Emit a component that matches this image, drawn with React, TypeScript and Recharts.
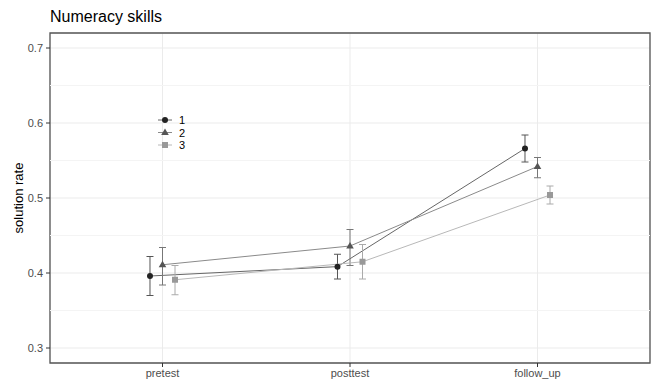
import {
  ComposedChart,
  Line,
  XAxis,
  YAxis,
  CartesianGrid,
  ErrorBar,
  ReferenceArea,
  ReferenceLine,
  Legend,
} from 'recharts'

const phases = ['pretest', 'posttest', 'follow_up']
const groups = ['1', '2', '3']

const mean1 = [0.396, 0.4085, 0.566]
const lower1 = [0.37, 0.392, 0.548]
const upper1 = [0.422, 0.425, 0.584]

const mean2 = [0.411, 0.436, 0.542]
const lower2 = [0.384, 0.41, 0.527]
const upper2 = [0.434, 0.458, 0.554]

const mean3 = [0.391, 0.415, 0.504]
const lower3 = [0.371, 0.392, 0.492]
const upper3 = [0.41, 0.438, 0.516]

const yTicks = [0.3, 0.4, 0.5, 0.6, 0.7]
const yMinor = [0.35, 0.45, 0.55, 0.65]

const DODGE = 0.0667
const FONT = '"Liberation Sans", Arial, sans-serif'

type Shape = 'circle' | 'triangle' | 'square'

interface SeriesStyle {
  name: string
  shape: Shape
  point: string
  line: string
  bar: string
}

const styles: SeriesStyle[] = [
  { name: groups[0], shape: 'circle', point: '#222222', line: '#666666', bar: '#555555' },
  { name: groups[1], shape: 'triangle', point: '#555555', line: '#8a8a8a', bar: '#777777' },
  { name: groups[2], shape: 'square', point: '#999999', line: '#b8b8b8', bar: '#aaaaaa' },
]

function buildSeries(mean: number[], lower: number[], upper: number[], gi: number) {
  return mean.map((m, i) => ({
    x: i + 1 + (gi - 1) * DODGE,
    y: m,
    err: [m - lower[i], upper[i] - m],
  }))
}

const series = [
  buildSeries(mean1, lower1, upper1, 0),
  buildSeries(mean2, lower2, upper2, 1),
  buildSeries(mean3, lower3, upper3, 2),
]

function Marker({ cx, cy, shape, color }: { cx: number; cy: number; shape: Shape; color: string }) {
  if (shape === 'circle') return <circle cx={cx} cy={cy} r={3} fill={color} />
  if (shape === 'triangle')
    return <polygon points={`${cx},${cy - 4} ${cx - 3.8},${cy + 2.6} ${cx + 3.8},${cy + 2.6}`} fill={color} />
  return <rect x={cx - 3} y={cy - 3} width={6} height={6} fill={color} />
}

function LegendBox() {
  return (
    <svg width={40} height={42} style={{ display: 'block', fontFamily: FONT }}>
      {styles.map((s, i) => {
        const y = 6 + i * 12.5
        return (
          <g key={s.name}>
            <line x1={3} x2={17} y1={y} y2={y} stroke={s.line} strokeWidth={1} />
            <Marker cx={10} cy={y} shape={s.shape} color={s.point} />
            <text x={24} y={y + 4} fontSize={11} fill="#000">
              {s.name}
            </text>
          </g>
        )
      })}
    </svg>
  )
}

export default function App() {
  return (
    <div style={{ position: 'absolute', left: 0, top: 0, width: 655, height: 382, fontFamily: FONT, background: '#fff' }}>
      <div style={{ position: 'absolute', left: 50, top: 8, fontSize: 16, lineHeight: '18px', color: '#000' }}>
        Numeracy skills
      </div>
      <ComposedChart width={655} height={382} margin={{ top: 33, right: 5, bottom: 0, left: 0 }}>
        {yMinor.map((v) => (
          <ReferenceLine key={v} y={v} stroke="#f4f4f4" strokeWidth={1} />
        ))}
        <CartesianGrid stroke="#ebebeb" strokeWidth={1} />
        <XAxis
          type="number"
          dataKey="x"
          domain={[0.4, 3.6]}
          ticks={[1, 2, 3]}
          tickFormatter={(v: number) => phases[Math.round(v) - 1]}
          allowDataOverflow
          height={19}
          axisLine={false}
          tickSize={4}
          tickMargin={2}
          tickLine={{ stroke: '#333' }}
          tick={{ fontSize: 11, fill: '#4d4d4d' }}
        />
        <YAxis
          type="number"
          domain={[0.28, 0.72]}
          ticks={yTicks}
          tickFormatter={(v: number) => v.toFixed(1)}
          allowDataOverflow
          width={50}
          axisLine={false}
          tickSize={4}
          tickMargin={3}
          tickLine={{ stroke: '#333' }}
          tick={{ fontSize: 11, fill: '#4d4d4d' }}
          label={{
            content: () => (
              <text x={20} y={198} transform="rotate(-90 20 198)" textAnchor="middle" dominantBaseline="middle" fontSize={13} fill="#000">
                solution rate
              </text>
            ),
          }}
        />
        {series.map((data, gi) => {
          const s = styles[gi]
          return (
            <Line
              key={s.name}
              data={data}
              dataKey="y"
              name={s.name}
              stroke={s.line}
              strokeWidth={1}
              isAnimationActive={false}
              activeDot={false}
              dot={(p: any) => <Marker key={`${s.name}-${p.index}`} cx={p.cx} cy={p.cy} shape={s.shape} color={s.point} />}
            >
              <ErrorBar dataKey="err" direction="y" width={3.5} stroke={s.bar} strokeWidth={1} isAnimationActive={false} />
            </Line>
          )
        })}
        <ReferenceArea x1={0.4} x2={3.6} y1={0.28} y2={0.72} fill="none" stroke="#555" strokeWidth={1.3} />
        <Legend
          layout="vertical"
          align="center"
          verticalAlign="middle"
          wrapperStyle={{ left: 155, top: 114, width: 40, height: 42 }}
          content={() => <LegendBox />}
        />
      </ComposedChart>
    </div>
  )
}
